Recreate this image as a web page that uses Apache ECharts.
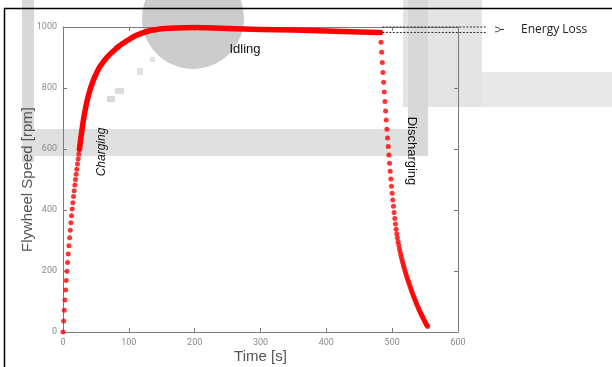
<!DOCTYPE html>
<html><head><meta charset="utf-8">
<script src="https://cdn.jsdelivr.net/npm/echarts@6/dist/echarts.min.js"></script>
<style>html,body{margin:0;padding:0;background:#fff}#c{width:612px;height:367px}</style>
</head><body><div id="c"></div>
<script>
// ---- data ----
const xTickValues = [0, 100, 200, 300, 400, 500, 600];
const yTickValues = [0, 200, 400, 600, 800, 1000];
// charging: sparse dots (1 s apart)
const chargeTime  = [0,1,2,3,4,5,6,7,8,9,10,11,12,13,14,15,16,17,18,19,20,21,22,23,24,25];
const chargeSpeed = [0,36,71,105,138,169,199,228,256,283,309,334,358,381,403,424,444,463,482,500,517,534,551,567,583,599];
// charging (dense part) + idling
const idleTime  = [25,30,35,40,45,50,55,60,65,70,75,80,85,90,95,100,110,120,130,140,150,170,200,250,300,350,400,450,482];
const idleSpeed = [599,681,742,786,819,845,866,882,896,908,918,928,937,945,952,959,971,980,987,991,994,997,998,995,992,990,987,984,982];
// discharging dots (1 s apart)
const disTime  = [482,483,484,485,486,487,488,489,490,491,492,493,494,495,496,497,498,499,500,501,502,503,504,
  505,506,507,508,509,510,511,512,513,514,515,516,517,518,519,520,521,522,523,524,525,526,527,528,529,530,
  531,532,533,534,535,536,537,538,539,540,541,542,543,544,545,546,547,548,549,550,551,552,553,554];
const disSpeed = [982,950,917,884,851,819,787,756,725,695,665,636,608,580,553,527,502,478,455,433,412,392,372,
  354,337,322,309,296,285,274,264,254,245,236,228,220,212,204,197,190,183,176,170,163,157,151,144,138,132,
  126,120,115,109,104,98,93,88,83,78,73,68,63,59,54,50,46,41,37,33,29,25,21,18];
const lossUpper = 1000, lossLower = 982;

const zip = (a, b) => a.map((v, i) => [v, b[i]]);
const chart = echarts.init(document.getElementById('c'));
const axisColor = '#7a7a7a';
const red = '#ff0000';
function xAx(pos, show) {
  return {type:'value', position:pos, min:0, max:600, interval:100,
    axisLine:{show:true, onZero:false, lineStyle:{color:axisColor, width:1}},
    axisTick:{show:true, inside:true, length:4, lineStyle:{color:axisColor}},
    axisLabel:{show:show, color:'#8a8a8a', fontSize:9, fontFamily:'Roboto', margin:6,
      formatter: v => xTickValues.includes(v) ? String(v) : ''},
    splitLine:{show:false},
    name: show ? 'Time [s]' : '', nameLocation:'middle', nameGap:17, nameMoveOverlap:false,
    nameTextStyle:{fontSize:15, color:'#555', fontFamily:'Liberation Sans', verticalAlign:'top'}};
}
function yAx(pos, show) {
  return {type:'value', position:pos, min:0, max:1000, interval:200,
    axisLine:{show:true, onZero:false, lineStyle:{color:axisColor, width:1}},
    axisTick:{show:true, inside:true, length:4, lineStyle:{color:axisColor}},
    axisLabel:{show:show, color:'#8a8a8a', fontSize:9, fontFamily:'Roboto', margin:6,
      formatter: v => yTickValues.includes(v) ? String(v) : ''},
    splitLine:{show:false},
    name: show ? 'Flywheel Speed [rpm]' : '', nameLocation:'middle', nameGap:28, nameMoveOverlap:false,
    nameTextStyle:{fontSize:15, color:'#555', fontFamily:'Liberation Sans'}};
}
const option = {
  animation:false,
  backgroundColor:'#ffffff',
  grid:{left:63, right:154, top:27, bottom:35, containLabel:false, outerBoundsMode:'none'},
  xAxis:[xAx('bottom', true), xAx('top', false)],
  yAxis:[yAx('left', true), yAx('right', false)],
  series:[
    {type:'line', data:zip(idleTime, idleSpeed), smooth:0.5, showSymbol:false, z:3,
      lineStyle:{color:red, width:5.5, cap:'round', join:'round'}},
    {type:'scatter', data:zip(chargeTime, chargeSpeed), symbolSize:5, z:4, itemStyle:{color:red}},
    {type:'scatter', data:zip(disTime, disSpeed), symbolSize:5, z:4, itemStyle:{color:red}}
  ]
};
chart.setOption(option);

// annotations
const pU0 = chart.convertToPixel({gridIndex:0}, [disTime[0], lossUpper]);
const pL0 = chart.convertToPixel({gridIndex:0}, [disTime[0], lossLower]);
const endX = 486;
const g = [
  // watermark-like background shapes
  {type:'rect', z:-10, shape:{x:22, y:0, width:12, height:162}, style:{fill:'#d8d8d8'}},
  {type:'rect', z:-10, shape:{x:22, y:129, width:406, height:27}, style:{fill:'#e0e0e0'}},
  {type:'rect', z:-10, shape:{x:403, y:0, width:79, height:107}, style:{fill:'#e4e4e4'}},
  {type:'rect', z:-10, shape:{x:408, y:0, width:20, height:156}, style:{fill:'#d8d8d8'}},
  {type:'rect', z:-10, shape:{x:482, y:72, width:130, height:35}, style:{fill:'#e8e8e8'}},
  {type:'circle', z:-9, shape:{cx:193, cy:18, r:51}, style:{fill:'#cccccc'}},
  {type:'rect', z:-9, shape:{x:107, y:96, width:8, height:6}, style:{fill:'#d8d8d8'}},
  {type:'rect', z:-9, shape:{x:115, y:88, width:9, height:6}, style:{fill:'#dcdcdc'}},
  {type:'rect', z:-9, shape:{x:137, y:68, width:6, height:7}, style:{fill:'#e2e2e2'}},
  {type:'rect', z:-9, shape:{x:150, y:57, width:5, height:5}, style:{fill:'#e2e2e2'}},
  // frame
  {type:'line', z:50, shape:{x1:4, y1:8.5, x2:612, y2:8.5}, style:{stroke:'#000', lineWidth:1.5}},
  {type:'line', z:50, shape:{x1:4.5, y1:8, x2:4.5, y2:367}, style:{stroke:'#000', lineWidth:1.5}},
  // energy loss
  {type:'line', z:50, shape:{x1:pU0[0]+2, y1:pU0[1], x2:endX, y2:pU0[1]}, style:{stroke:'#333', lineWidth:1, lineDash:[2,1.5]}},
  {type:'line', z:50, shape:{x1:pL0[0]+2, y1:pL0[1], x2:endX, y2:pL0[1]}, style:{stroke:'#333', lineWidth:1, lineDash:[2,1.5]}},
  {type:'polyline', z:50, shape:{points:[[495,27.2],[498.5,27.8],[500,29.5],[498.5,31.2],[495,31.8]], smooth:0.5}, style:{stroke:'#333', lineWidth:1, fill:null}},
  {type:'line', z:50, shape:{x1:500, y1:29.5, x2:504, y2:29.5}, style:{stroke:'#333', lineWidth:1}},
  {type:'text', z:50, x:521, y:30, style:{text:'Energy Loss', font:'12px "Open Sans"', fill:'#222', textVerticalAlign:'middle'}},
  // phase labels
  {type:'text', z:50, x:102, y:152, rotation:Math.PI/2, style:{text:'Charging', font:'italic 12px "Liberation Sans"', fill:'#111', textAlign:'center', textVerticalAlign:'middle'}},
  {type:'text', z:50, x:245, y:49, style:{text:'Idling', font:'13px "Liberation Sans"', fill:'#111', textAlign:'center', textVerticalAlign:'middle'}},
  {type:'text', z:50, x:412, y:151, rotation:-Math.PI/2, style:{text:'Discharging', font:'13px "Liberation Sans"', fill:'#111', textAlign:'center', textVerticalAlign:'middle'}}
];
chart.setOption({graphic:g});
</script></body></html>
